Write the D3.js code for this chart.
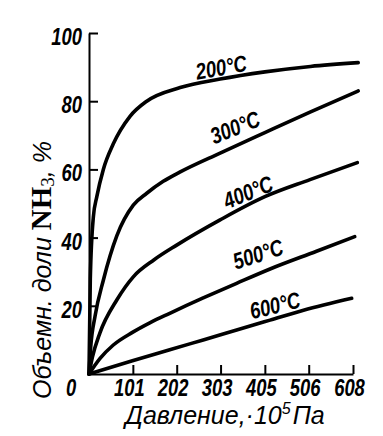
<!DOCTYPE html>
<html>
<head>
<meta charset="utf-8">
<script src="https://cdn.jsdelivr.net/npm/d3@7"></script>
<style>
  body { margin: 0; background: #fff; }
  text { fill: #000; }
</style>
</head>
<body>
<svg id="plot" width="383" height="436"></svg>
<script>
// Data: pressure (10^5 Pa) vs NH3 volume share (%)
const xTicks = [101, 202, 303, 405, 506, 608];
const yTicks = [20, 40, 60, 80, 100];

const c200 = [[0,0],[3,28],[10,46],[18,52],[33,60],[56,67.5],[94,75.5],[133,80],[210,84],[302,86.5],[405,88.6],[510,90.2],[620,91.3]];
const c300 = [[0,0],[4,8],[14,17],[33,27.5],[64,40.5],[102,49.5],[133,53],[171,56.5],[209,59.2],[302,64.8],[405,70.8],[509,76.8],[620,83]];
const c400 = [[0,0],[8,5],[25,12],[64,21.7],[102,28.5],[150,33.5],[202,37.8],[302,45.2],[405,52],[509,57],[618,62]];
const c500 = [[0,0],[25,4.5],[56,8.5],[100,12.2],[140,15],[186,17.8],[263,22.3],[340,26.6],[417,30.8],[524,36],[612,40.3]];
const c600 = [[0,0],[100,3.9],[186,7.1],[263,10],[340,12.9],[417,15.8],[494,18.7],[605,22.2]];

const curveNames = ["200°C", "300°C", "400°C", "500°C", "600°C"];
// label anchor (in data units) and tilt for each curve
const labelPos = [[304,90],[336,72.4],[366,53.4],[389,35.2],[428,20.2]];
const labelAngle = [-10, -22, -22, -18, -14];

const svg = d3.select("#plot");
const x = d3.scaleLinear().domain([0, 608]).range([89, 353]);
const y = d3.scaleLinear().domain([0, 100]).range([374, 33]);

const sx = 0.8; // narrow the digits a bit
const numFont = g => g.attr("font-family", "Liberation Sans, Arial, sans-serif")
  .attr("font-style", "italic").attr("font-weight", "bold").attr("font-size", 23);

// x axis
const gx = svg.append("g").attr("transform", `translate(0,${y(0)})`)
  .call(d3.axisBottom(x).tickValues(xTicks).tickSize(-9).tickSizeOuter(0).tickPadding(6));
gx.selectAll("path, line").attr("stroke", "#000").attr("stroke-width", 2);
gx.selectAll("text").call(numFont)
  .attr("transform", `scale(${sx},1)`).attr("x", -4 / sx);

// y axis
const gy = svg.append("g").attr("transform", `translate(${x(0)},0)`)
  .call(d3.axisLeft(y).tickValues(yTicks).tickSize(-9).tickSizeOuter(0).tickPadding(7));
gy.selectAll("path, line").attr("stroke", "#000").attr("stroke-width", 2);
gy.selectAll("text").call(numFont)
  .attr("transform", `scale(${sx},1)`).attr("x", -7 / sx).attr("dy", "0.5em");
gx.attr("font-family", null); gy.attr("font-family", null);

// origin label
svg.append("text").call(numFont)
  .attr("text-anchor", "middle")
  .attr("transform", `translate(${x(0) - 18},${y(0) + 22}) scale(${sx},1)`)
  .text("0");

// curves
const line = d3.line().x(d => x(d[0])).y(d => y(d[1])).curve(d3.curveMonotoneX);
const curves = [c200, c300, c400, c500, c600];
svg.append("g").selectAll("path").data(curves).join("path")
  .attr("d", line)
  .attr("fill", "none").attr("stroke", "#000")
  .attr("stroke-width", 3.6).attr("stroke-linecap", "round").attr("stroke-linejoin", "round");

// curve labels
svg.append("g").selectAll("text").data(curveNames).join("text")
  .call(numFont)
  .attr("text-anchor", "middle")
  .attr("dy", "0.36em")
  .attr("transform", (d, i) => `translate(${x(labelPos[i][0])},${y(labelPos[i][1])}) rotate(${labelAngle[i]}) scale(${sx},1)`)
  .text(d => d);

// y title
const yt = svg.append("text")
  .attr("transform", "translate(51,270) rotate(-90)")
  .attr("text-anchor", "middle")
  .attr("font-family", "Liberation Sans, Arial, sans-serif")
  .attr("font-style", "italic").attr("font-size", 25);
yt.append("tspan").text("Объемн. доли ");
yt.append("tspan").attr("font-family", "Liberation Serif, Times New Roman, serif")
  .attr("font-style", "normal").attr("font-weight", "bold").attr("font-size", 29).text("NH");
yt.append("tspan").attr("font-family", "Liberation Serif, Times New Roman, serif")
  .attr("font-style", "normal").attr("font-size", 19).attr("dy", 3).text("3");
yt.append("tspan").attr("dy", -3).text(", %");

// x title
const xt = svg.append("text")
  .attr("x", 225).attr("y", 424)
  .attr("text-anchor", "middle")
  .attr("font-family", "Liberation Sans, Arial, sans-serif")
  .attr("font-style", "italic").attr("font-size", 25);
xt.append("tspan").text("Давление,·10");
xt.append("tspan").attr("font-size", 16).attr("dy", -10).text("5");
xt.append("tspan").attr("dy", 10).attr("dx", 2).text("Па");
</script>
</body>
</html>
